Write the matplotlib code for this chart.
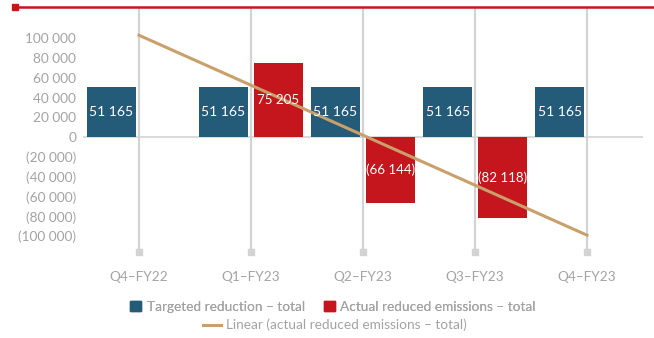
import numpy as np
import matplotlib.pyplot as plt
from matplotlib.patches import Patch
from matplotlib.lines import Line2D

plt.rcParams['font.family'] = ['Lato', 'DejaVu Sans']
plt.rcParams['font.size'] = 9.8

quarters = ['Q4–FY22', 'Q1–FY23', 'Q2–FY23', 'Q3–FY23', 'Q4–FY23']
targeted = [51165, 51165, 51165, 51165, 51165]
actual = [0, 75205, -66144, -82118, 0]
trend = [103000, 52500, 2000, -48500, -99000]
y_ticks = list(range(-100000, 100001, 20000))

blue = '#245b78'
red = '#c4161c'
tan = '#c9a06c'
grey_txt = '#a3a3a3'
grid_col = '#d3d3d3'


def fmt(v):
    s = f"{abs(v):,}".replace(',', ' ')
    return f"({s})" if v < 0 else s


fig = plt.figure(figsize=(6.54, 3.38), dpi=100)
ax = fig.add_axes([0.1269, 0.2544, 0.8563, 0.7219])

x = np.arange(len(quarters))
off, w = 0.245, 0.43

# category gridlines with little square ends
for xi in x:
    ax.axvline(xi, color=grid_col, lw=1.6, zorder=0)
ax.scatter(x, np.full(len(x), -116000), marker='s', s=22, color=grid_col,
           clip_on=False, zorder=1)
ax.axhline(0, color=grid_col, lw=1.2, zorder=0)

ax.bar(x - off, targeted, width=w, color=blue, zorder=2)
nz = [i for i, v in enumerate(actual) if v != 0]
ax.bar(x[nz] + off, [actual[i] for i in nz], width=w, color=red, zorder=2)

for xi, v in zip(x, targeted):
    ax.text(xi - off, v / 2, fmt(v), color='white', ha='center', va='center',
            fontsize=10, zorder=4)
for i in nz:
    ax.text(x[i] + off, actual[i] / 2, fmt(actual[i]), color='white',
            ha='center', va='center', fontsize=9.6, zorder=4)

ax.plot(x, trend, color=tan, lw=2.2, zorder=3)

ax.set_xlim(-0.5, 4.5)
ax.set_ylim(-116000, 130500)
ax.set_yticks(y_ticks)
ax.set_yticklabels([fmt(v) for v in y_ticks], color=grey_txt)
ax.set_xticks(x)
ax.set_xticklabels(quarters, color=grey_txt)
ax.tick_params(axis='both', length=0)
ax.tick_params(axis='x', pad=14)
ax.tick_params(axis='y', pad=5)
for s in ax.spines.values():
    s.set_visible(False)

# red rule across the top
fig.add_artist(Line2D([18 / 654, 1], [1 - 7 / 338] * 2, color=red, lw=1.8))
fig.add_artist(Line2D([15 / 654], [1 - 7 / 338], marker='s', ms=5, color=red))

leg1 = fig.legend(handles=[Patch(color=blue, label='Targeted reduction – total'),
                           Patch(color=red, label='Actual reduced emissions – total')],
                  loc='center', bbox_to_anchor=(0.509, 1 - 307 / 338), ncol=2,
                  frameon=False, handlelength=0.8, handleheight=0.8,
                  handletextpad=0.4, columnspacing=1.4, labelcolor=grey_txt,
                  borderaxespad=0, borderpad=0)
fig.legend(handles=[Line2D([], [], color=tan, lw=2.2,
                           label='Linear (actual reduced emissions – total)')],
           loc='center', bbox_to_anchor=(0.512, 1 - 325 / 338), frameon=False,
           handlelength=1.3, handletextpad=0.4, labelcolor=grey_txt,
           borderaxespad=0, borderpad=0)
fig.add_artist(leg1)

fig.savefig('out.png', dpi=100)
